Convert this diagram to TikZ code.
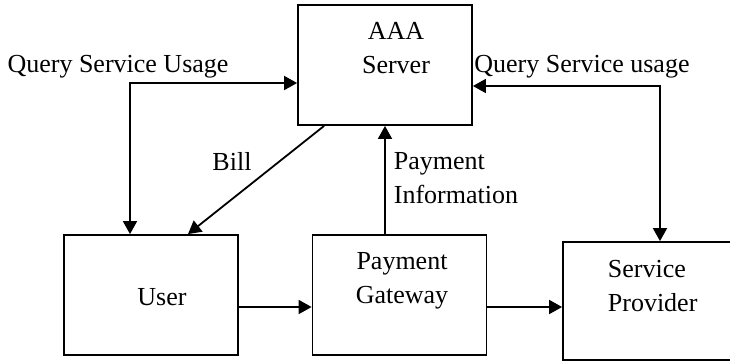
\documentclass[tikz,border=0pt]{standalone}
\usepackage{fontspec}
\setmainfont{Liberation Serif}
\usetikzlibrary{arrows.meta, calc}

\begin{document}
\begin{tikzpicture}[x=0.5pt, y=-0.5pt, line width=0.9pt,
    box/.style={draw, minimum width=87pt, minimum height=60pt, inner sep=0pt},
    txt/.style={font=\fontsize{13}{17}\selectfont, align=center, inner sep=0pt},
    arr/.style={-{Triangle[length=6.5pt, width=7pt]}},
    both/.style={{Triangle[length=6.5pt, width=7pt]}-{Triangle[length=6.5pt, width=7pt]}}]
  \useasboundingbox[clip] (0,0) rectangle (730,361);

  % boxes
  \node[box] (aaa) at (385,65) {};
  \node[box] (user) at (151,295) {};
  \node[box] (gw) at (399.5,295) {};
  \node[box, minimum width=100pt, minimum height=59pt] (sp) at (663,301) {};

  \node[txt] (aaatxt) at (396,48) {AAA\\Server};
  \node[txt] (usertxt) at (162,297) {User};
  \node[txt] (gwtxt) at (402,281) {Payment\\Gateway};
  \node[txt, align=left, anchor=west] (sptxt) at (607,286) {Service\\Provider};

  % labels
  \node[txt] (qleftlbl) at (118,67) {Query Service Usage};
  \node[txt] (qrightlbl) at (582,67) {Query Service usage};
  \node[txt] (billlbl) at (232,162) {Bill};
  \node[txt, align=left, anchor=west] (paylbl) at (393,178) {Payment\\Information};

  % connectors
  \coordinate (qleft) at (130,83);
  \coordinate (qright) at (660,86);
  \coordinate (flow) at (0,307);
  \draw[both] (user.north -| qleft) -- (qleft) -- (qleft -| aaa.west);
  \draw[both] (qright -| aaa.east) -- (qright) -- (qright |- sp.north);
  \draw[arr] ($(aaa.south west)+(27,0)$) -- ($(user.north)+(37,0)$);
  \draw[arr] (gw.north -| aaa.south) -- (aaa.south);
  \draw[arr] (user.east |- flow) -- (gw.west |- flow);
  \draw[arr] (gw.east |- flow) -- (sp.west |- flow);
\end{tikzpicture}
\end{document}
